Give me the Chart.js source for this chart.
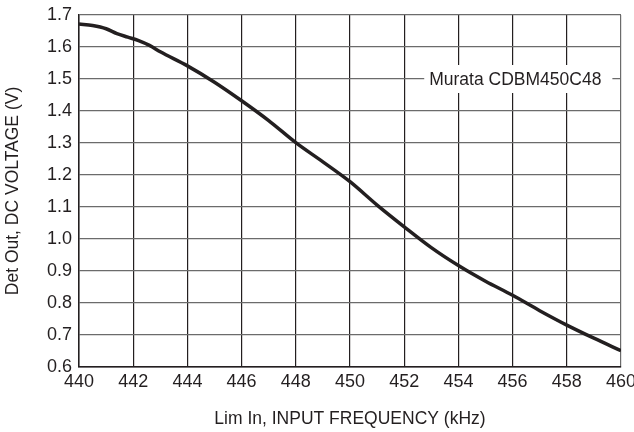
<!DOCTYPE html>
<html>
<head>
<meta charset="utf-8">
<script src="https://cdn.jsdelivr.net/npm/chart.js@4"></script>
<style>
    body { margin: 0; background: #fff; }
    #wrap { width: 634px; height: 432px; }
</style>
</head>
<body>
<div id="wrap"><canvas id="chart1"></canvas></div>
<script>
/*************Data*************/
const freq = [440, 440.5, 441, 441.4, 441.8, 442.2, 442.6, 443, 444, 445, 446, 447, 448, 449, 450, 451, 452, 453, 454, 455, 456, 457, 458, 459, 460];
const volts = [1.672, 1.667, 1.657, 1.642, 1.631, 1.62, 1.605, 1.585, 1.541, 1.49, 1.432, 1.37, 1.301, 1.241, 1.179, 1.106, 1.038, 0.973, 0.917, 0.868, 0.824, 0.776, 0.731, 0.69, 0.651];
const xTicks = [440, 442, 444, 446, 448, 450, 452, 454, 456, 458, 460];
const yTicks = [0.6, 0.7, 0.8, 0.9, 1.0, 1.1, 1.2, 1.3, 1.4, 1.5, 1.6, 1.7];
const seriesName = "Murata CDBM450C48";

const font = "'Liberation Sans Narrow', 'Arial Narrow', 'Liberation Sans', sans-serif";
const ink = "#231f20";
const gray = "#6b6b6b";

/*************Chart Functions*************/
const points = freq.map(function (f, i) { return { x: f, y: volts[i] }; });

// label with white box sitting on the 1.5 V gridline
const labelPlugin = {
    id: 'seriesLabel',
    afterDraw: function (chart) {
        const ctx = chart.ctx;
        const px = chart.scales.x.getPixelForValue(456.1);
        const py = chart.scales.y.getPixelForValue(1.5);
        ctx.save();
        ctx.font = "17.5px " + font;
        const w = ctx.measureText(seriesName).width;
        ctx.fillStyle = "#fff";
        ctx.fillRect(px - w / 2 - 5, py - 14, w + 16, 28);
        ctx.fillStyle = ink;
        ctx.textAlign = "center";
        ctx.textBaseline = "middle";
        ctx.fillText(seriesName, px, py + 1);
        ctx.restore();
    }
};

function noPad(scale) {
    scale.paddingLeft = 0;
    scale.paddingRight = 0;
    scale.paddingTop = 0;
    scale.paddingBottom = 0;
}

const chart1 = document.getElementById("chart1");
const lineChart = new Chart(chart1, {
    type: 'line',
    data: {
        datasets: [
            {
                data: points,
                label: seriesName,
                borderColor: ink,
                borderWidth: 3.5,
                pointRadius: 0,
                tension: 0.4,
                cubicInterpolationMode: 'monotone',
                fill: false
            }
        ]
    },
    options: {
        responsive: true,
        maintainAspectRatio: false,
        animation: false,
        layout: { padding: { left: 0, right: 13, top: 15, bottom: 0 } },
        plugins: {
            legend: { display: false },
            tooltip: { enabled: false }
        },
        scales: {
            x: {
                type: 'linear',
                min: 440,
                max: 460,
                afterBuildTicks: function (scale) {
                    scale.ticks = xTicks.map(function (v) { return { value: v }; });
                },
                afterFit: function (scale) { scale.height = 65; noPad(scale); },
                ticks: {
                    color: ink,
                    padding: 4,
                    maxRotation: 0,
                    font: { family: font, size: 18 }
                },
                grid: {
                    drawTicks: false,
                    lineWidth: 1.2,
                    color: function (c) { return c.tick && c.tick.value === 460 ? gray : ink; }
                },
                border: { color: ink, width: 1.5 },
                title: {
                    display: true,
                    text: "Lim In, INPUT FREQUENCY (kHz)",
                    color: ink,
                    font: { family: font, size: 17.5 },
                    padding: { top: 0, bottom: 2 }
                }
            },
            y: {
                min: 0.6,
                max: 1.7,
                afterBuildTicks: function (scale) {
                    scale.ticks = yTicks.map(function (v) { return { value: v }; });
                },
                afterFit: function (scale) { scale.width = 79; noPad(scale); },
                ticks: {
                    color: ink,
                    padding: 7,
                    font: { family: font, size: 18 },
                    callback: function (v) { return Number(v).toFixed(1); }
                },
                grid: {
                    drawTicks: false,
                    lineWidth: 1.2,
                    color: function (c) { return c.tick && c.tick.value === 0.6 ? ink : gray; }
                },
                border: { color: ink, width: 1.5 },
                title: {
                    display: true,
                    text: "Det Out, DC VOLTAGE (V)",
                    color: ink,
                    font: { family: font, size: 17.5 },
                    padding: { top: 3, bottom: 0 }
                }
            }
        }
    },
    plugins: [labelPlugin]
});
</script>
</body>
</html>
